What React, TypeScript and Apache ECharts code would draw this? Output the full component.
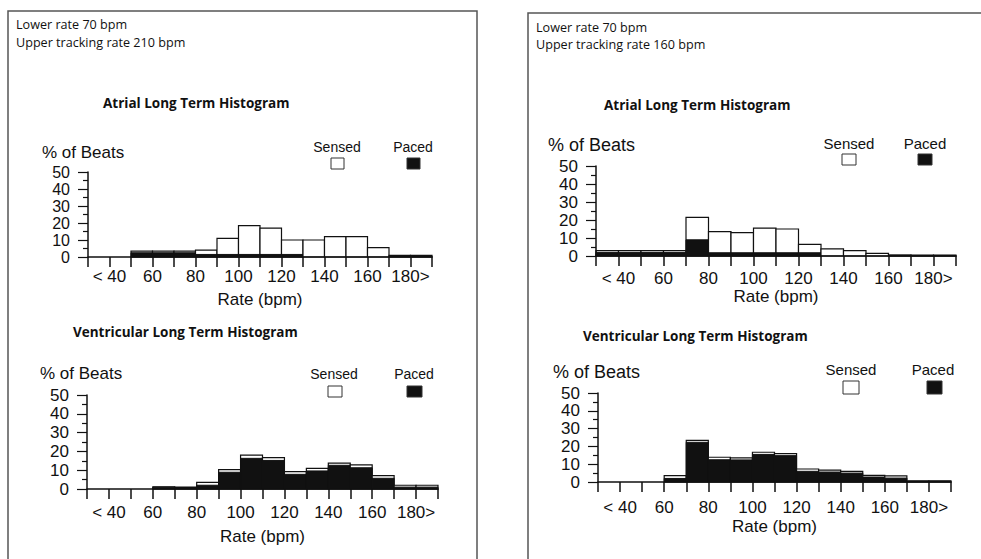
import React, { useEffect, useRef } from "react";
import * as echarts from "echarts";

// Bin starts (bpm); each bin is 10 bpm wide
const binStarts = [30, 40, 50, 60, 70, 80, 90, 100, 110, 120, 130, 140, 150, 160, 170, 180];
const tickLabels: Record<number, string> = { 40: "< 40", 60: "60", 80: "80", 100: "100", 120: "120", 140: "140", 160: "160", 180: "180>" };
const yTicks = [0, 10, 20, 30, 40, 50];

// Left device (upper tracking 210)
const leftAtrialPaced = [0, 0, 2.5, 2.5, 2.5, 1.5, 1.5, 1.5, 1.5, 1.5, 0, 0, 0, 0, 0.6, 0.6];
const leftAtrialSensed = [0, 0, 1, 1, 1, 2.5, 9.5, 17, 15.5, 8.5, 10, 12, 12, 5.5, 0.4, 0.4];
const leftVentPaced = [0, 0, 0, 1, 0.8, 2, 8.9, 16.3, 15.2, 7.8, 9.6, 12.6, 11.3, 5.7, 1, 1];
const leftVentSensed = [0, 0, 0, 0.2, 0.2, 1.5, 1.4, 1.7, 1.5, 1.4, 1.4, 1.2, 1.5, 1.4, 1, 1];

// Right device (upper tracking 160)
const rightAtrialPaced = [2, 2, 2, 2, 9, 1.8, 1.8, 1.8, 1.8, 1.8, 0, 0, 0, 0.3, 0.3, 0.3];
const rightAtrialSensed = [1, 1, 1, 1, 12.5, 11.7, 11.2, 13.7, 13.2, 4.7, 4, 3, 1.5, 0.3, 0.2, 0.2];
const rightVentPaced = [0, 0, 0, 2, 22.3, 12.5, 12.4, 15.5, 14.8, 6, 5.6, 5, 2.8, 2.2, 0.4, 0.4];
const rightVentSensed = [0, 0, 0, 1.6, 1.1, 1.4, 1.1, 1.2, 1.1, 1.3, 1.1, 1, 0.9, 1.2, 0.3, 0.3];

const headerLeft = ["Lower rate 70 bpm", "Upper tracking rate 210 bpm"];
const headerRight = ["Lower rate 70 bpm", "Upper tracking rate 160 bpm"];
const atrialTitle = "Atrial Long Term Histogram";
const ventTitle = "Ventricular Long Term Histogram";
const yName = "% of Beats";
const xName = "Rate (bpm)";
const legendNames = ["Sensed", "Paced"];

const INK = "#111";
const ARIAL = "'Liberation Sans', Arial, sans-serif";
const CAL = "'Open Sans', sans-serif";

type Panel = {
  grid: { left: number; top: number; width: number; height: number };
  paced: number[];
  sensed: number[];
  labelMargin: number;
  nameGap: number;
  yFont: number;
};

const panels: Panel[] = [
  { grid: { left: 88, top: 172, width: 344, height: 85 }, paced: leftAtrialPaced, sensed: leftAtrialSensed, labelMargin: 11, nameGap: 34, yFont: 16 },
  { grid: { left: 87, top: 395, width: 351, height: 94 }, paced: leftVentPaced, sensed: leftVentSensed, labelMargin: 15, nameGap: 39, yFont: 17 },
  { grid: { left: 596, top: 166, width: 360, height: 90 }, paced: rightAtrialPaced, sensed: rightAtrialSensed, labelMargin: 14, nameGap: 31, yFont: 17 },
  { grid: { left: 598, top: 393, width: 353, height: 89 }, paced: rightVentPaced, sensed: rightVentSensed, labelMargin: 17, nameGap: 36, yFont: 17 },
];

export default function App() {
  const ref = useRef<HTMLDivElement>(null);
  useEffect(() => {
    if (!ref.current) return;
    const chart = echarts.init(ref.current, null, { renderer: "svg" });

    const text = (t: string, x: number, y: number, size: number, family: string, weight = "normal", align = "left") => ({
      type: "text",
      x,
      y,
      style: { text: t, fill: INK, fontSize: size, fontFamily: family, fontWeight: weight, align, verticalAlign: "middle" },
      z: 10,
    });
    const box = (x: number, y: number, w: number, h: number, fill: string) => ({
      type: "rect",
      shape: { x, y, width: w, height: h },
      style: { fill, stroke: "#333", lineWidth: 1 },
      z: 10,
    });

    const graphics: any[] = [
      { type: "rect", shape: { x: 8, y: 11, width: 469, height: 620 }, style: { fill: "none", stroke: "#555", lineWidth: 1.5 } },
      { type: "rect", shape: { x: 528, y: 13, width: 520, height: 620 }, style: { fill: "none", stroke: "#555", lineWidth: 1.5 } },
      text(headerLeft[0], 16, 24, 12.6, CAL),
      text(headerLeft[1], 16, 42, 12.6, CAL),
      text(headerRight[0], 536, 27, 12.6, CAL),
      text(headerRight[1], 536, 44, 12.6, CAL),
      text(atrialTitle, 103, 103, 13.5, CAL, "bold"),
      text(ventTitle, 73, 332, 13.5, CAL, "bold"),
      text(atrialTitle, 604, 105, 13.5, CAL, "bold"),
      text(ventTitle, 583, 336, 13.5, CAL, "bold"),
      text(yName, 42, 152, 17, ARIAL),
      text(yName, 40, 373, 17, ARIAL),
      text(yName, 548, 145, 18, ARIAL),
      text(yName, 553, 372, 18, ARIAL),
      // legends
      text(legendNames[0], 337, 147, 14, ARIAL, "normal", "center"),
      text(legendNames[1], 413, 147, 14, ARIAL, "normal", "center"),
      box(331, 158, 13, 11, "#fff"),
      box(407, 158, 13, 11, INK),
      text(legendNames[0], 334, 374, 14, ARIAL, "normal", "center"),
      text(legendNames[1], 414, 374, 14, ARIAL, "normal", "center"),
      box(328, 386, 14, 11, "#fff"),
      box(407, 386, 15, 11, INK),
      text(legendNames[0], 849, 143, 15, ARIAL, "normal", "center"),
      text(legendNames[1], 925, 143, 15, ARIAL, "normal", "center"),
      box(842, 154, 14, 11, "#fff"),
      box(918, 154, 14, 11, INK),
      text(legendNames[0], 851, 369, 15, ARIAL, "normal", "center"),
      text(legendNames[1], 933, 369, 15, ARIAL, "normal", "center"),
      box(843, 381, 16, 13, "#fff"),
      box(927, 381, 15, 13, INK),
    ];

    const option: any = {
      animation: false,
      backgroundColor: "#fff",
      grid: panels.map((p) => ({ ...p.grid, containLabel: false })),
      xAxis: panels.map((p, i) => ({
        type: "value",
        gridIndex: i,
        min: 30,
        max: 190,
        interval: 10,
        splitLine: { show: false },
        axisLine: { show: true, lineStyle: { color: INK, width: 1.5 } },
        axisTick: { show: true, length: 10, lineStyle: { color: INK, width: 1.5 } },
        axisLabel: {
          show: true,
          margin: p.labelMargin,
          color: INK,
          fontSize: 17,
          fontFamily: ARIAL,
          showMinLabel: true,
          showMaxLabel: true,
          hideOverlap: false,
          formatter: (v: number) => tickLabels[v] ?? "",
        },
        name: xName,
        nameLocation: "middle",
        nameGap: p.nameGap,
        nameTextStyle: { color: INK, fontSize: 17, fontFamily: ARIAL },
        z: 5,
      })),
      yAxis: panels.map((p, i) => ({
        type: "value",
        gridIndex: i,
        min: yTicks[0],
        max: yTicks[yTicks.length - 1],
        interval: 10,
        splitLine: { show: false },
        axisLine: { show: true, lineStyle: { color: INK, width: 1.5 } },
        axisTick: { show: true, length: 10, lineStyle: { color: INK, width: 1.2 } },
        minorTick: { show: true, splitNumber: 2, length: 5, lineStyle: { color: INK, width: 1.2 } },
        axisLabel: { margin: 18, color: INK, fontSize: p.yFont, lineHeight: 14, fontFamily: ARIAL },
        z: 5,
      })),
      series: panels.map((p, i) => ({
        type: "custom",
        xAxisIndex: i,
        yAxisIndex: i,
        data: binStarts.map((b, k) => [b, p.paced[k], p.sensed[k]]),
        encode: { x: 0, y: 1 },
        renderItem: (params: any, api: any) => {
          const x0 = api.value(0);
          const pv = api.value(1);
          const sv = api.value(2);
          const base = api.coord([x0, 0]);
          const topAll = api.coord([x0 + 10, pv + sv]);
          const topP = api.coord([x0 + 10, pv]);
          const w = topAll[0] - base[0];
          const children: any[] = [];
          if (pv + sv > 0) {
            children.push({
              type: "rect",
              shape: { x: base[0], y: topAll[1], width: w, height: base[1] - topAll[1] },
              style: { fill: "#fff", stroke: INK, lineWidth: 1.2 },
            });
          }
          if (pv > 0) {
            children.push({
              type: "rect",
              shape: { x: base[0], y: topP[1], width: w, height: base[1] - topP[1] },
              style: { fill: INK, stroke: INK, lineWidth: 1 },
            });
          }
          return { type: "group", children };
        },
      })),
      graphic: graphics,
    };
    chart.setOption(option);
    return () => chart.dispose();
  }, []);
  return <div ref={ref} style={{ position: "fixed", left: 0, top: 0, width: 981, height: 559 }} />;
}
